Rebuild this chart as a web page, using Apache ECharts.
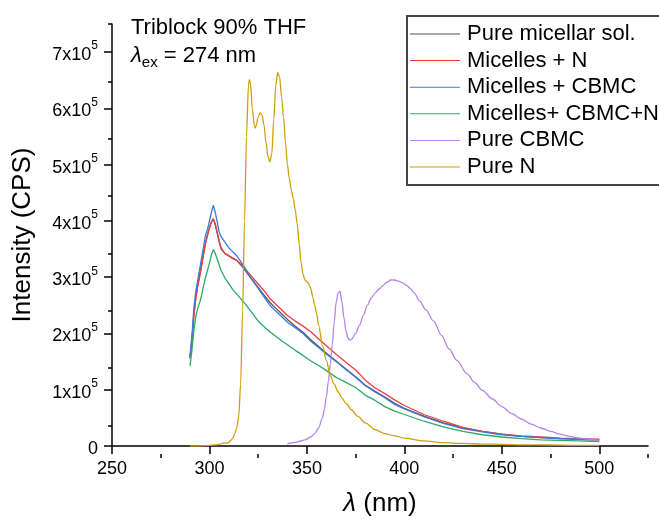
<!DOCTYPE html>
<html><head><meta charset="utf-8">
<script src="https://cdn.jsdelivr.net/npm/echarts@6/dist/echarts.min.js"></script>
<style>html,body{margin:0;padding:0;background:#fff;overflow:hidden}#c{width:659px;height:522px}</style>
</head><body><div id="c"></div>
<script>
// Intensity values are in units of 1e5 CPS
const wlMicelle = [290,291,292,293,294,295,296,297,298,299,300,301,302,303,304,305,306,308,310,312,314,316,318,320,322,325,328,331,334,337,340,344,348,352,356,360,365,370,375,380,385,390,395,400,410,420,430,440,450,460,470,480,490,500];
const pureMicellar = [1.55,1.90,2.35,2.65,2.85,3.05,3.25,3.45,3.62,3.75,3.88,3.98,4.04,3.92,3.78,3.62,3.50,3.42,3.38,3.33,3.30,3.22,3.14,3.04,2.95,2.82,2.68,2.55,2.45,2.35,2.25,2.13,2.02,1.89,1.77,1.65,1.51,1.37,1.23,1.08,0.97,0.87,0.76,0.67,0.53,0.41,0.32,0.26,0.21,0.17,0.15,0.13,0.12,0.11];
const micellesN = [1.58,1.85,2.30,2.62,2.85,3.00,3.20,3.40,3.60,3.75,3.88,3.98,4.03,3.95,3.80,3.65,3.52,3.42,3.38,3.34,3.30,3.24,3.16,3.08,3.00,2.88,2.76,2.62,2.52,2.42,2.32,2.22,2.13,2.03,1.90,1.78,1.63,1.49,1.35,1.17,1.03,0.93,0.82,0.72,0.56,0.44,0.33,0.26,0.21,0.18,0.16,0.14,0.13,0.12];
const micellesCBMC = [1.60,1.95,2.45,2.75,2.95,3.15,3.35,3.55,3.75,3.85,4.00,4.15,4.28,4.15,3.98,3.80,3.72,3.62,3.52,3.45,3.38,3.28,3.18,3.05,2.95,2.80,2.65,2.50,2.40,2.30,2.20,2.10,2.00,1.86,1.75,1.63,1.50,1.36,1.22,1.07,0.96,0.86,0.74,0.66,0.52,0.40,0.31,0.25,0.20,0.17,0.15,0.13,0.12,0.11];
const micellesCBMCN = [1.42,1.70,2.05,2.30,2.45,2.55,2.68,2.85,3.00,3.12,3.25,3.40,3.49,3.42,3.32,3.22,3.12,2.98,2.88,2.78,2.70,2.62,2.54,2.45,2.36,2.22,2.12,2.03,1.95,1.87,1.80,1.70,1.61,1.51,1.43,1.34,1.22,1.13,1.04,0.90,0.81,0.70,0.62,0.56,0.44,0.34,0.26,0.20,0.16,0.13,0.11,0.10,0.09,0.08];

const wlCBMC = [340,343,346,349,352,354,356,358,359,360,361,362,363,364,365,366,367,368,369,370,371,372,373,375,377,379,381,383,385,387,389,391,393,395,397,399,401,403,405,408,411,415,419,423,427,432,436,440,445,450,455,460,465,470,475,480,485,490,495,500];
const pureCBMC = [0.04,0.06,0.08,0.11,0.16,0.22,0.32,0.50,0.66,0.88,1.15,1.45,1.80,2.20,2.55,2.72,2.75,2.55,2.28,2.05,1.92,1.88,1.90,2.00,2.15,2.32,2.50,2.63,2.72,2.79,2.85,2.91,2.95,2.95,2.93,2.90,2.86,2.80,2.72,2.57,2.42,2.22,1.97,1.72,1.52,1.29,1.13,0.99,0.84,0.70,0.58,0.48,0.39,0.32,0.26,0.21,0.17,0.14,0.12,0.10];

const wlN = [290,295,300,303,305,307,309,310,311,312,313,314,315,316,317,318,319,320,320.5,321,322,323,323.5,324,325,326,327,328,329,330,331,332,333,334,335,336,337,338,339,340,341,342,343,344,345,346,347,348,349,350,351,352,353,354,355,356,358,360,362,364,366,368,370,373,376,380,385,390,395,400,410,420,430,440,450,460,470,480,490,500];
const pureN = [0.00,0.00,0.01,0.02,0.03,0.05,0.05,0.07,0.10,0.14,0.22,0.32,0.52,1.10,2.40,4.00,5.50,6.40,6.51,6.45,6.00,5.70,5.65,5.70,5.85,5.92,5.88,5.70,5.40,5.15,5.05,5.20,5.80,6.40,6.64,6.55,6.20,5.85,5.40,5.00,4.75,4.55,4.40,4.20,3.95,3.60,3.25,3.05,2.95,2.92,2.88,2.80,2.65,2.50,2.35,2.15,1.78,1.52,1.25,1.10,0.96,0.85,0.76,0.64,0.53,0.41,0.29,0.22,0.18,0.14,0.09,0.06,0.045,0.035,0.03,0.02,0.02,0.015,0.01,0.01];

const xTicks = [250,300,350,400,450,500];
const xMinorTicks = [275,325,375,425,475,525];
const yTicks = [0,1,2,3,4,5,6,7];
const yMinorTicks = [0.5,1.5,2.5,3.5,4.5,5.5,6.5,7.5];

const seriesNames = ['Pure micellar sol.','Micelles + N','Micelles + CBMC','Micelles+ CBMC+N','Pure CBMC','Pure N'];
const seriesColors = ['#555555','#f03c3f','#3a7adc','#2da866','#b584e8','#d19e0b'];

const FONT = "'Liberation Sans', Arial, sans-serif";
const pairs = (xs, ys) => xs.map((x, i) => [x, ys[i]]);
const seriesData = [
  pairs(wlMicelle, pureMicellar),
  pairs(wlMicelle, micellesN),
  pairs(wlMicelle, micellesCBMC),
  pairs(wlMicelle, micellesCBMCN),
  pairs(wlCBMC, pureCBMC),
  pairs(wlN, pureN)
];

const chart = echarts.init(document.getElementById('c'), null, {renderer: 'canvas'});
const axisBlack = {color: '#000', width: 1.5};
const gridBox = {left: 112, right: 11, top: 24, bottom: 68, containLabel: false};

chart.setOption({
  animation: false,
  backgroundColor: '#fff',
  textStyle: {fontFamily: FONT},
  title: {
    left: 126, top: 9,
    text: '{t|Triblock 90% THF}\n{l|λ}{sub|ex}{t| = 274 nm}',
    textStyle: {
      fontFamily: FONT, fontWeight: 'normal',
      rich: {
        t: {fontSize: 22, color: '#000', fontFamily: FONT, fontWeight: 'normal', lineHeight: 28, verticalAlign: 'middle'},
        l: {fontSize: 22, color: '#000', fontFamily: FONT, fontWeight: 'normal', fontStyle: 'italic', lineHeight: 28, verticalAlign: 'middle'},
        sub: {fontSize: 15, color: '#000', fontFamily: FONT, fontWeight: 'normal', lineHeight: 14, verticalAlign: 'bottom'}
      }
    }
  },
  legend: {
    orient: 'vertical',
    left: 407, top: 16,
    padding: [7, 14, 7, 3],
    itemWidth: 50, itemHeight: 14, itemGap: 4.6,
    borderColor: '#444', borderWidth: 2,
    backgroundColor: '#fff',
    textStyle: {fontSize: 22, color: '#000', fontFamily: FONT, padding: [0, 0, 0, 2]},
    data: seriesNames.map(n => ({name: n, icon: 'path://M0,0L50,0L50,1L0,1Z'}))
  },
  grid: [gridBox, Object.assign({}, gridBox)],
  xAxis: [{
    gridIndex: 0, type: 'value', min: 250, max: 525,
    axisLine: {show: true, lineStyle: axisBlack},
    axisTick: {show: true, customValues: xTicks, length: 8, lineStyle: axisBlack},
    axisLabel: {customValues: xTicks, fontSize: 18, color: '#000', margin: 14, fontFamily: FONT},
    splitLine: {show: false},
    name: '{l|λ}{t| (nm)}', nameLocation: 'middle', nameGap: 45,
    nameTextStyle: {rich: {
      l: {fontSize: 26, fontStyle: 'italic', color: '#000', fontFamily: FONT},
      t: {fontSize: 26, color: '#000', fontFamily: FONT}
    }}
  }, {
    gridIndex: 1, type: 'value', min: 250, max: 525,
    axisLine: {show: false},
    axisTick: {show: true, customValues: xMinorTicks, length: 4, lineStyle: axisBlack},
    axisLabel: {show: false}, splitLine: {show: false}
  }],
  yAxis: [{
    gridIndex: 0, type: 'value', min: 0, max: 7.5,
    axisLine: {show: true, lineStyle: axisBlack},
    axisTick: {show: true, customValues: yTicks, length: 8, lineStyle: axisBlack},
    axisLabel: {
      customValues: yTicks, margin: 14, color: '#000',
      formatter: v => v === 0 ? '{n|0}' : '{n|' + v + 'x10}{s|5}',
      rich: {
        n: {fontSize: 18, color: '#000', fontFamily: FONT, lineHeight: 24, verticalAlign: 'bottom'},
        s: {fontSize: 12, color: '#000', fontFamily: FONT, lineHeight: 12, verticalAlign: 'top'}
      }
    },
    splitLine: {show: false},
    name: 'Intensity (CPS)', nameLocation: 'middle', nameGap: 76, nameRotate: 90,
    nameTextStyle: {fontSize: 26, color: '#000', fontFamily: FONT}
  }, {
    gridIndex: 1, type: 'value', min: 0, max: 7.5,
    axisLine: {show: false},
    axisTick: {show: true, customValues: yMinorTicks, length: 4, lineStyle: axisBlack},
    axisLabel: {show: false}, splitLine: {show: false}
  }],
  series: seriesNames.map((name, i) => ({
    name: name, type: 'line', xAxisIndex: 0, yAxisIndex: 0,
    data: seriesData[i], symbol: 'none', showSymbol: false,
    smooth: i >= 4 ? 0.3 : false,
    smoothMonotone: 'x',
    lineStyle: {width: 1.3, color: seriesColors[i]},
    itemStyle: {color: seriesColors[i]},
    emphasis: {disabled: true}
  }))
});
</script>
</body></html>
